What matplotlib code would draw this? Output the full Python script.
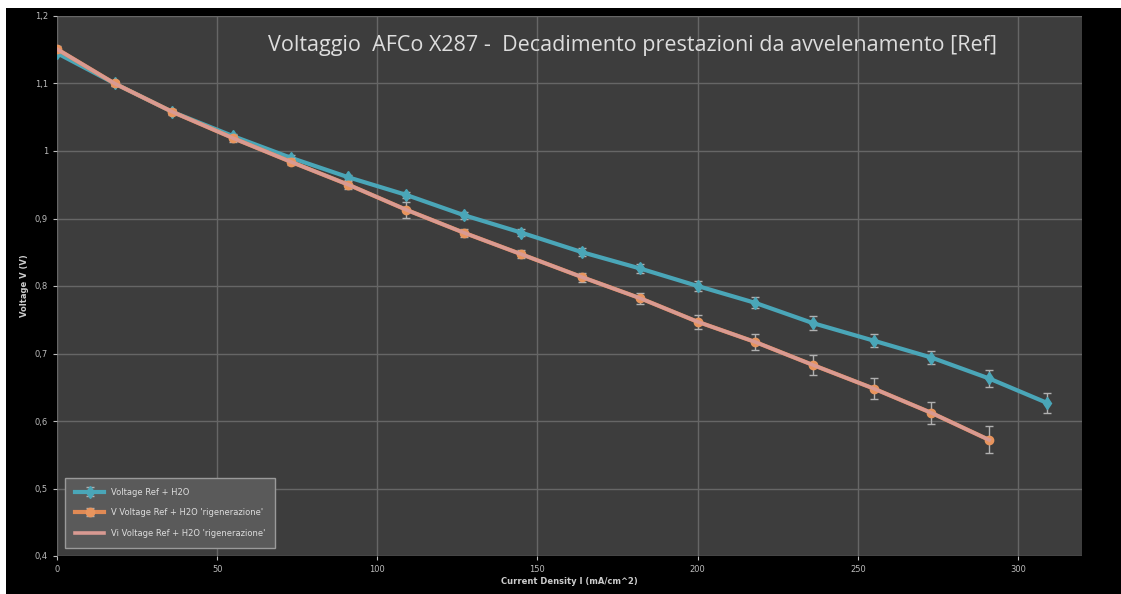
import numpy as np
import matplotlib.pyplot as plt
from matplotlib.patches import Rectangle

# Dati
corrente = [0, 18, 36, 55, 73, 91, 109, 127, 145, 164, 182, 200, 218, 236, 255, 273, 291, 309]
v_ref = [1.145, 1.100, 1.058, 1.022, 0.990, 0.961, 0.935, 0.905, 0.879, 0.850, 0.826, 0.800,
         0.775, 0.745, 0.719, 0.694, 0.663, 0.627]
err_ref = [0.003, 0.003, 0.003, 0.003, 0.004, 0.004, 0.005, 0.005, 0.005, 0.006, 0.006, 0.007,
           0.008, 0.010, 0.010, 0.010, 0.012, 0.015]

corrente_rig = [0, 18, 36, 55, 73, 91, 109, 127, 145, 164, 182, 200, 218, 236, 255, 273, 291]
v_rig = [1.151, 1.100, 1.058, 1.019, 0.984, 0.950, 0.913, 0.879, 0.847, 0.813, 0.782, 0.747,
         0.717, 0.683, 0.648, 0.612, 0.572]
err_rig = [0.004, 0.004, 0.004, 0.005, 0.005, 0.006, 0.012, 0.006, 0.006, 0.007, 0.008, 0.010,
           0.012, 0.015, 0.016, 0.016, 0.020]

etichette = ["Voltage Ref + H2O",
             "V Voltage Ref + H2O 'rigenerazione'",
             "Vi Voltage Ref + H2O 'rigenerazione'"]
y_ticks = [0.4, 0.5, 0.6, 0.7, 0.8, 0.9, 1.0, 1.1, 1.2]
y_tick_labels = ["0,4", "0,5", "0,6", "0,7", "0,8", "0,9", "1", "1,1", "1,2"]
x_ticks = [0, 50, 100, 150, 200, 250, 300]

fig = plt.figure(figsize=(11.21, 5.94), dpi=100, facecolor='black')
# bordi bianchi dello screenshot
fig.patches.append(Rectangle((0, 1 - 8 / 594), 1, 8 / 594, transform=fig.transFigure,
                             facecolor='white', edgecolor='none', zorder=-1))
fig.patches.append(Rectangle((0, 0), 6 / 1121, 1, transform=fig.transFigure,
                             facecolor='white', edgecolor='none', zorder=-1))

ax = fig.add_axes([57 / 1121, 38 / 594, 1025 / 1121, 540 / 594])
ax.set_facecolor('#3d3d3d')

h1 = ax.errorbar(corrente, v_ref, yerr=err_ref, color='#4aa6b8', lw=3, marker='d', ms=6,
                 mfc='#4aa6b8', mec='#4aa6b8', ecolor='#b0b0b0', elinewidth=1, capsize=3,
                 label=etichette[0], zorder=3)
h2 = ax.errorbar(corrente_rig, v_rig, yerr=err_rig, color='#e08a55', lw=3, marker='o', ms=6,
                 mfc='#e8955e', mec='#e8955e', ecolor='#b0b0b0', elinewidth=1, capsize=3,
                 label=etichette[1], zorder=4)
h3, = ax.plot(corrente_rig, v_rig, color='#d99a92', lw=2.6, label=etichette[2], zorder=5)

ax.set_xlim(0, 320)
ax.set_ylim(0.4, 1.2)
ax.set_xticks(x_ticks)
ax.set_yticks(y_ticks)
ax.set_yticklabels(y_tick_labels)
ax.tick_params(colors='#bbbbbb', labelsize=6, length=3)
ax.grid(True, color='#666666', lw=1)
ax.set_axisbelow(True)
for s in ax.spines.values():
    s.set_visible(False)

ax.set_xlabel('Current Density I (mA/cm^2)', color='#cccccc', fontsize=6, labelpad=2,
              fontweight='bold')
ax.set_ylabel('Voltage V (V)', color='#cccccc', fontsize=6, labelpad=4, fontweight='bold')

ax.text(0.561, 0.945, 'Voltaggio  AFCo X287 -  Decadimento prestazioni da avvelenamento [Ref]',
        transform=ax.transAxes, ha='center', va='center', color='#dddddd', fontsize=15.5,
        family='Open Sans')

leg = ax.legend([h1, h2, h3], etichette, loc='lower left', bbox_to_anchor=(0.008, 0.015),
                fontsize=6, facecolor='#5a5a5a', edgecolor='#9a9a9a', framealpha=1,
                labelcolor='#dddddd', fancybox=False, borderpad=1.2, labelspacing=1.4,
                handlelength=3.5, borderaxespad=0)
leg.get_frame().set_linewidth(1)

fig.savefig('out.png', dpi=100, facecolor=fig.get_facecolor())
